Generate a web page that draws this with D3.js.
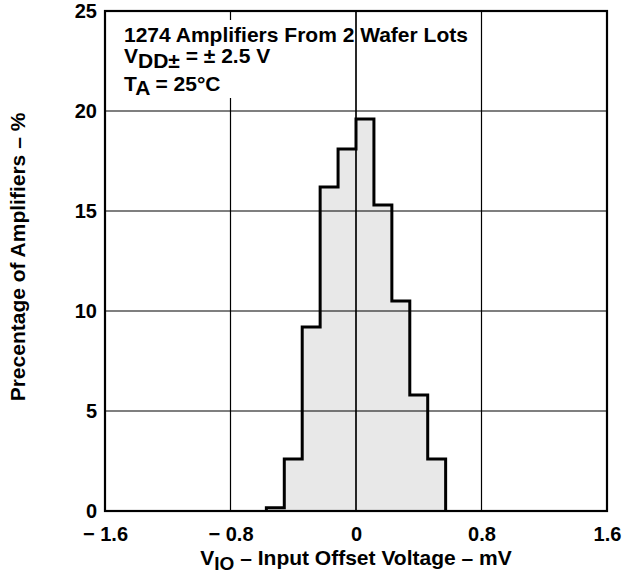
<!DOCTYPE html>
<html><head><meta charset="utf-8">
<script src="https://cdn.jsdelivr.net/npm/d3@7"></script>
<style>body{margin:0;background:#fff}svg{display:block}text{font-family:"Liberation Sans",Arial,sans-serif;font-weight:bold;fill:#000}</style>
</head><body><svg id="c" width="626" height="576"></svg>
<script>
// bin edges in mV (bin width 0.8/7 mV)
const binEdges = [-4/7, -3.2/7, -2.4/7, -1.6/7, -0.8/7, 0, 0.8/7, 1.6/7, 2.4/7, 3.2/7, 4/7];
const percentages = [0.16, 2.6, 9.2, 16.2, 18.1, 19.6, 15.3, 10.5, 5.8, 2.6];
const xTicks = [-1.6, -0.8, 0, 0.8, 1.6];
const xTickLabels = ["\u2212 1.6", "\u2212 0.8", "0", "0.8", "1.6"];
const yTicks = [0, 5, 10, 15, 20, 25];

const svg = d3.select("#c");
const L = 105, R = 607, T = 11, B = 511;
const x = d3.scaleLinear().domain([-1.6, 1.6]).range([L, R]);
const y = d3.scaleLinear().domain([0, 25]).range([B, T]);

const grid = (g) => {
  g.selectAll("line.v").data(xTicks.slice(1, -1)).join("line").attr("class", "v")
    .attr("x1", d => x(d)).attr("x2", d => x(d)).attr("y1", T).attr("y2", B)
    .attr("stroke", "#000").attr("stroke-width", 1.2);
  g.selectAll("line.h").data(yTicks.slice(1, -1)).join("line").attr("class", "h")
    .attr("y1", d => y(d)).attr("y2", d => y(d)).attr("x1", L).attr("x2", R)
    .attr("stroke", "#000").attr("stroke-width", 1.2);
};

// histogram fill
const bins = percentages.map((v, i) => ({x0: binEdges[i], x1: binEdges[i + 1], v}));
const pts = [[x(bins[0].x0), y(0)]];
bins.forEach(b => { pts.push([x(b.x0), y(b.v)]); pts.push([x(b.x1), y(b.v)]); });
pts.push([x(bins[bins.length - 1].x1), y(0)]);
svg.append("path").attr("d", d3.line()(pts) + "Z").attr("fill", "#e8e8e8").attr("stroke", "none");

// grid over fill
svg.append("g").call(grid);

// histogram outline
svg.append("path").attr("d", d3.line()(pts))
  .attr("fill", "none").attr("stroke", "#000").attr("stroke-width", 3).attr("stroke-linejoin", "miter");

// annotation background box (hides gridlines)
svg.append("rect").attr("x", L + 1).attr("y", 20).attr("width", 170).attr("height", 78).attr("fill", "#fff");
// restore the zero gridline which runs through the annotation
svg.append("line").attr("x1", x(0)).attr("x2", x(0)).attr("y1", T).attr("y2", B)
  .attr("stroke", "#000").attr("stroke-width", 1.2);

// frame
svg.append("rect").attr("x", L).attr("y", T).attr("width", R - L).attr("height", B - T)
  .attr("fill", "none").attr("stroke", "#000").attr("stroke-width", 2.2);

// axes labels via d3 axes (no lines)
const xAxis = svg.append("g").attr("transform", `translate(0,${B})`)
  .call(d3.axisBottom(x).tickValues(xTicks).tickFormat((d, i) => xTickLabels[i]).tickSize(0).tickPadding(16));
xAxis.select(".domain").remove();
xAxis.selectAll("text").attr("font-size", 20).attr("font-family", "Liberation Sans, Arial, sans-serif").attr("font-weight", "bold").attr("fill", "#000");
const yAxis = svg.append("g").attr("transform", `translate(${L},0)`)
  .call(d3.axisLeft(y).tickValues(yTicks).tickFormat(d3.format("d")).tickSize(0).tickPadding(8));
yAxis.select(".domain").remove();
yAxis.selectAll("text").attr("font-size", 20).attr("font-family", "Liberation Sans, Arial, sans-serif").attr("font-weight", "bold").attr("fill", "#000");

// titles
const xt = svg.append("text").attr("x", x(0)).attr("y", 565).attr("text-anchor", "middle").attr("font-size", 21);
xt.append("tspan").text("V");
xt.append("tspan").attr("dy", 5).attr("font-size", 19).text("IO");
xt.append("tspan").attr("dy", -5).text(" \u2013 Input Offset Voltage \u2013 mV");

svg.append("text").attr("transform", `translate(25,257) rotate(-90)`)
  .attr("text-anchor", "middle").attr("font-size", 21).text("Precentage of Amplifiers \u2013 %");

// annotation
const ann = svg.append("g").attr("font-size", 21);
ann.append("text").attr("x", 124).attr("y", 42).text("1274 Amplifiers From 2 Wafer Lots");
const l2 = ann.append("text").attr("x", 124).attr("y", 63);
l2.append("tspan").text("V");
l2.append("tspan").attr("dy", 5).text("DD\u00b1");
l2.append("tspan").attr("dy", -5).text(" = \u00b1 2.5 V");
const l3 = ann.append("text").attr("x", 124).attr("y", 91);
l3.append("tspan").text("T");
l3.append("tspan").attr("dy", 4).text("A");
l3.append("tspan").attr("dy", -4).text(" = 25\u00b0C");
</script></body></html>
